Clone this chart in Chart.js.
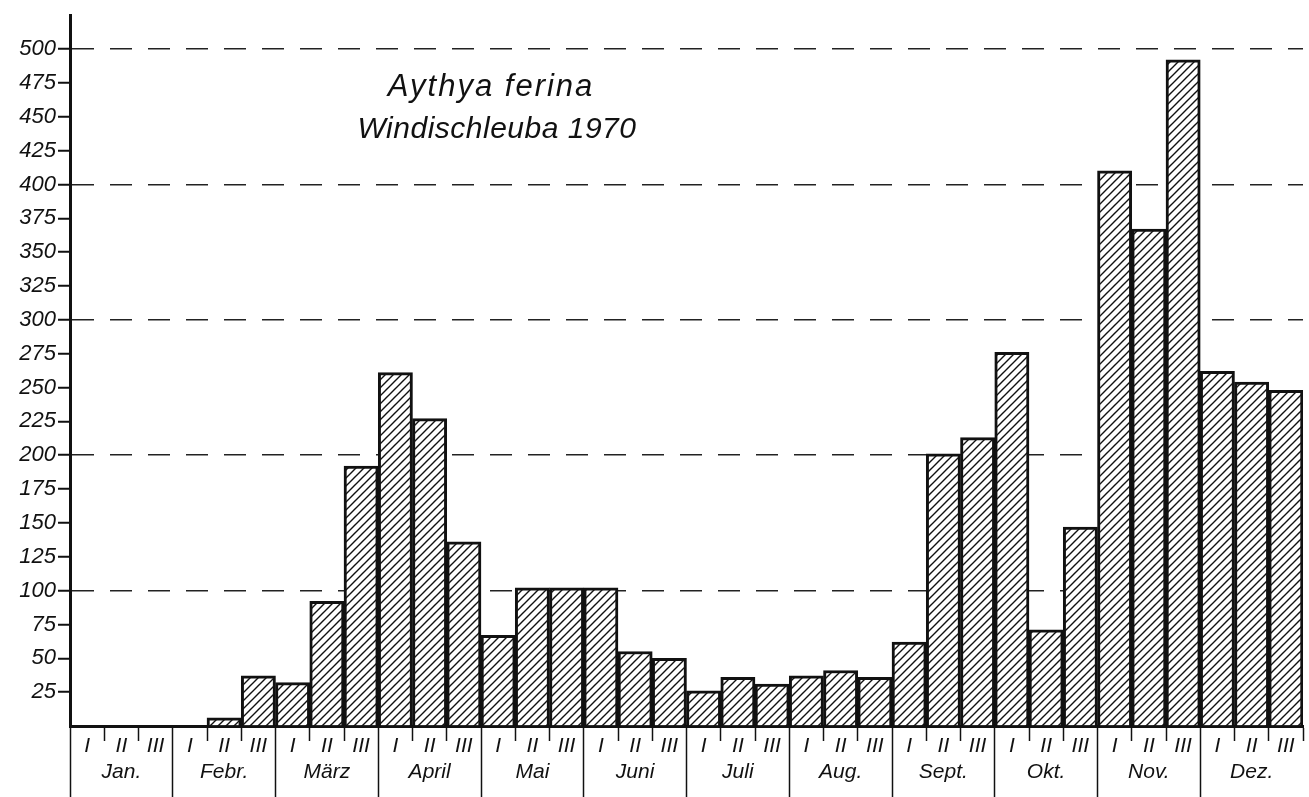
<!DOCTYPE html>
<html>
<head>
<meta charset="utf-8">
<script src="https://cdn.jsdelivr.net/npm/chart.js@4/dist/chart.umd.min.js"></script>
<style>
  html, body { margin: 0; padding: 0; background: #fff; }
  #wrap { position: relative; width: 1309px; height: 797px; }
  .title {
    position: absolute;
    font-family: "Liberation Sans", "DejaVu Sans", sans-serif;
    font-style: italic;
    color: #111;
    white-space: nowrap;
    transform: translateX(-50%);
  }
</style>
</head>
<body>
<div id="wrap">
  <canvas id="chart" width="1309" height="797"></canvas>
  <div class="title" style="left:491px; top:68px; font-size:31px; letter-spacing:2px;">Aythya ferina</div>
  <div class="title" style="left:497px; top:111px; font-size:30px; letter-spacing:0.5px;">Windischleuba 1970</div>
</div>
<script>
// months and decades (I, II, III per month)
const months = ["Jan.", "Febr.", "März", "April", "Mai", "Juni",
                "Juli", "Aug.", "Sept.", "Okt.", "Nov.", "Dez."];
const decades = ["I", "II", "III"];

// counts per decade
const counts = [
  0, 0, 0,        // Jan
  0, 6, 37,       // Febr
  32, 92, 192,    // März
  261, 227, 136,  // April
  67, 102, 102,   // Mai
  102, 55, 50,    // Juni
  26, 36, 31,     // Juli
  37, 41, 36,     // Aug
  62, 201, 213,   // Sept
  276, 71, 147,   // Okt
  410, 367, 492,  // Nov
  262, 254, 248   // Dez
];

const yMax = 525;
const yStep = 25;
const gridValues = [100, 200, 300, 400, 500];

// labels: decade numeral on every bar, month name under the middle one
const labels = [];
months.forEach((m) => {
  decades.forEach((d, i) => {
    labels.push(i === 1 ? [d, m] : [d, ""]);
  });
});

// diagonal hatching pattern
function makeHatch() {
  const size = 8;
  const c = document.createElement("canvas");
  c.width = size;
  c.height = size;
  const g = c.getContext("2d");
  g.fillStyle = "#fff";
  g.fillRect(0, 0, size, size);
  g.strokeStyle = "#111";
  g.lineWidth = 1.4;
  g.beginPath();
  g.moveTo(0, size);
  g.lineTo(size, 0);
  g.moveTo(-size / 2, size / 2);
  g.lineTo(size / 2, -size / 2);
  g.moveTo(size / 2, size * 1.5);
  g.lineTo(size * 1.5, size / 2);
  g.stroke();
  return document.getElementById("chart").getContext("2d").createPattern(c, "repeat");
}

const xFont = { family: "'Liberation Sans', 'DejaVu Sans', sans-serif", style: "italic", size: 21 };
const yFont = { family: "'Liberation Sans', 'DejaVu Sans', sans-serif", style: "italic", size: 22 };

const ctx = document.getElementById("chart").getContext("2d");
new Chart(ctx, {
  type: "bar",
  data: {
    labels: labels,
    datasets: [
      {
        label: "Aythya ferina",
        data: counts,
        backgroundColor: makeHatch(),
        borderColor: "#111",
        borderWidth: 3,
        barPercentage: 1,
        categoryPercentage: 1,
      },
    ],
  },
  options: {
    responsive: false,
    animation: false,
    layout: { padding: { top: 10, right: 6, left: 0, bottom: 0 } },
    plugins: {
      legend: { display: false },
      tooltip: { enabled: false },
    },
    scales: {
      x: {
        grid: {
          offset: true,
          drawOnChartArea: false,
          tickLength: 71,
          tickWidth: 1.5,
          tickColor: "#111",
          // month boundaries run to the bottom, decade ticks are short
          tickBorderDash: (c) => (c.index % 3 === 0 ? [] : [13, 200]),
        },
        border: { display: true, color: "#111", width: 3 },
        ticks: {
          color: "#111",
          font: xFont,
          padding: -63,
          maxRotation: 0,
          autoSkip: false,
        },
        afterFit: (scale) => {
          scale.height = 71;
        },
      },
      y: {
        min: 0,
        max: yMax,
        ticks: {
          stepSize: yStep,
          color: "#111",
          font: yFont,
          padding: 2,
          callback: (v) => (v > 0 && v <= 500 ? v : ""),
        },
        grid: {
          color: (c) =>
            gridValues.includes(c.tick && c.tick.value) ? "#222" : "rgba(0,0,0,0)",
          lineWidth: 1.5,
          tickLength: 12,
          tickWidth: 2,
          tickColor: (c) =>
            c.tick && c.tick.value > 0 && c.tick.value <= 500 ? "#111" : "rgba(0,0,0,0)",
        },
        border: { display: true, color: "#111", width: 3, dash: [22, 16] },
        afterFit: (scale) => {
          scale.width = 70;
        },
      },
    },
  },
});
</script>
</body>
</html>
